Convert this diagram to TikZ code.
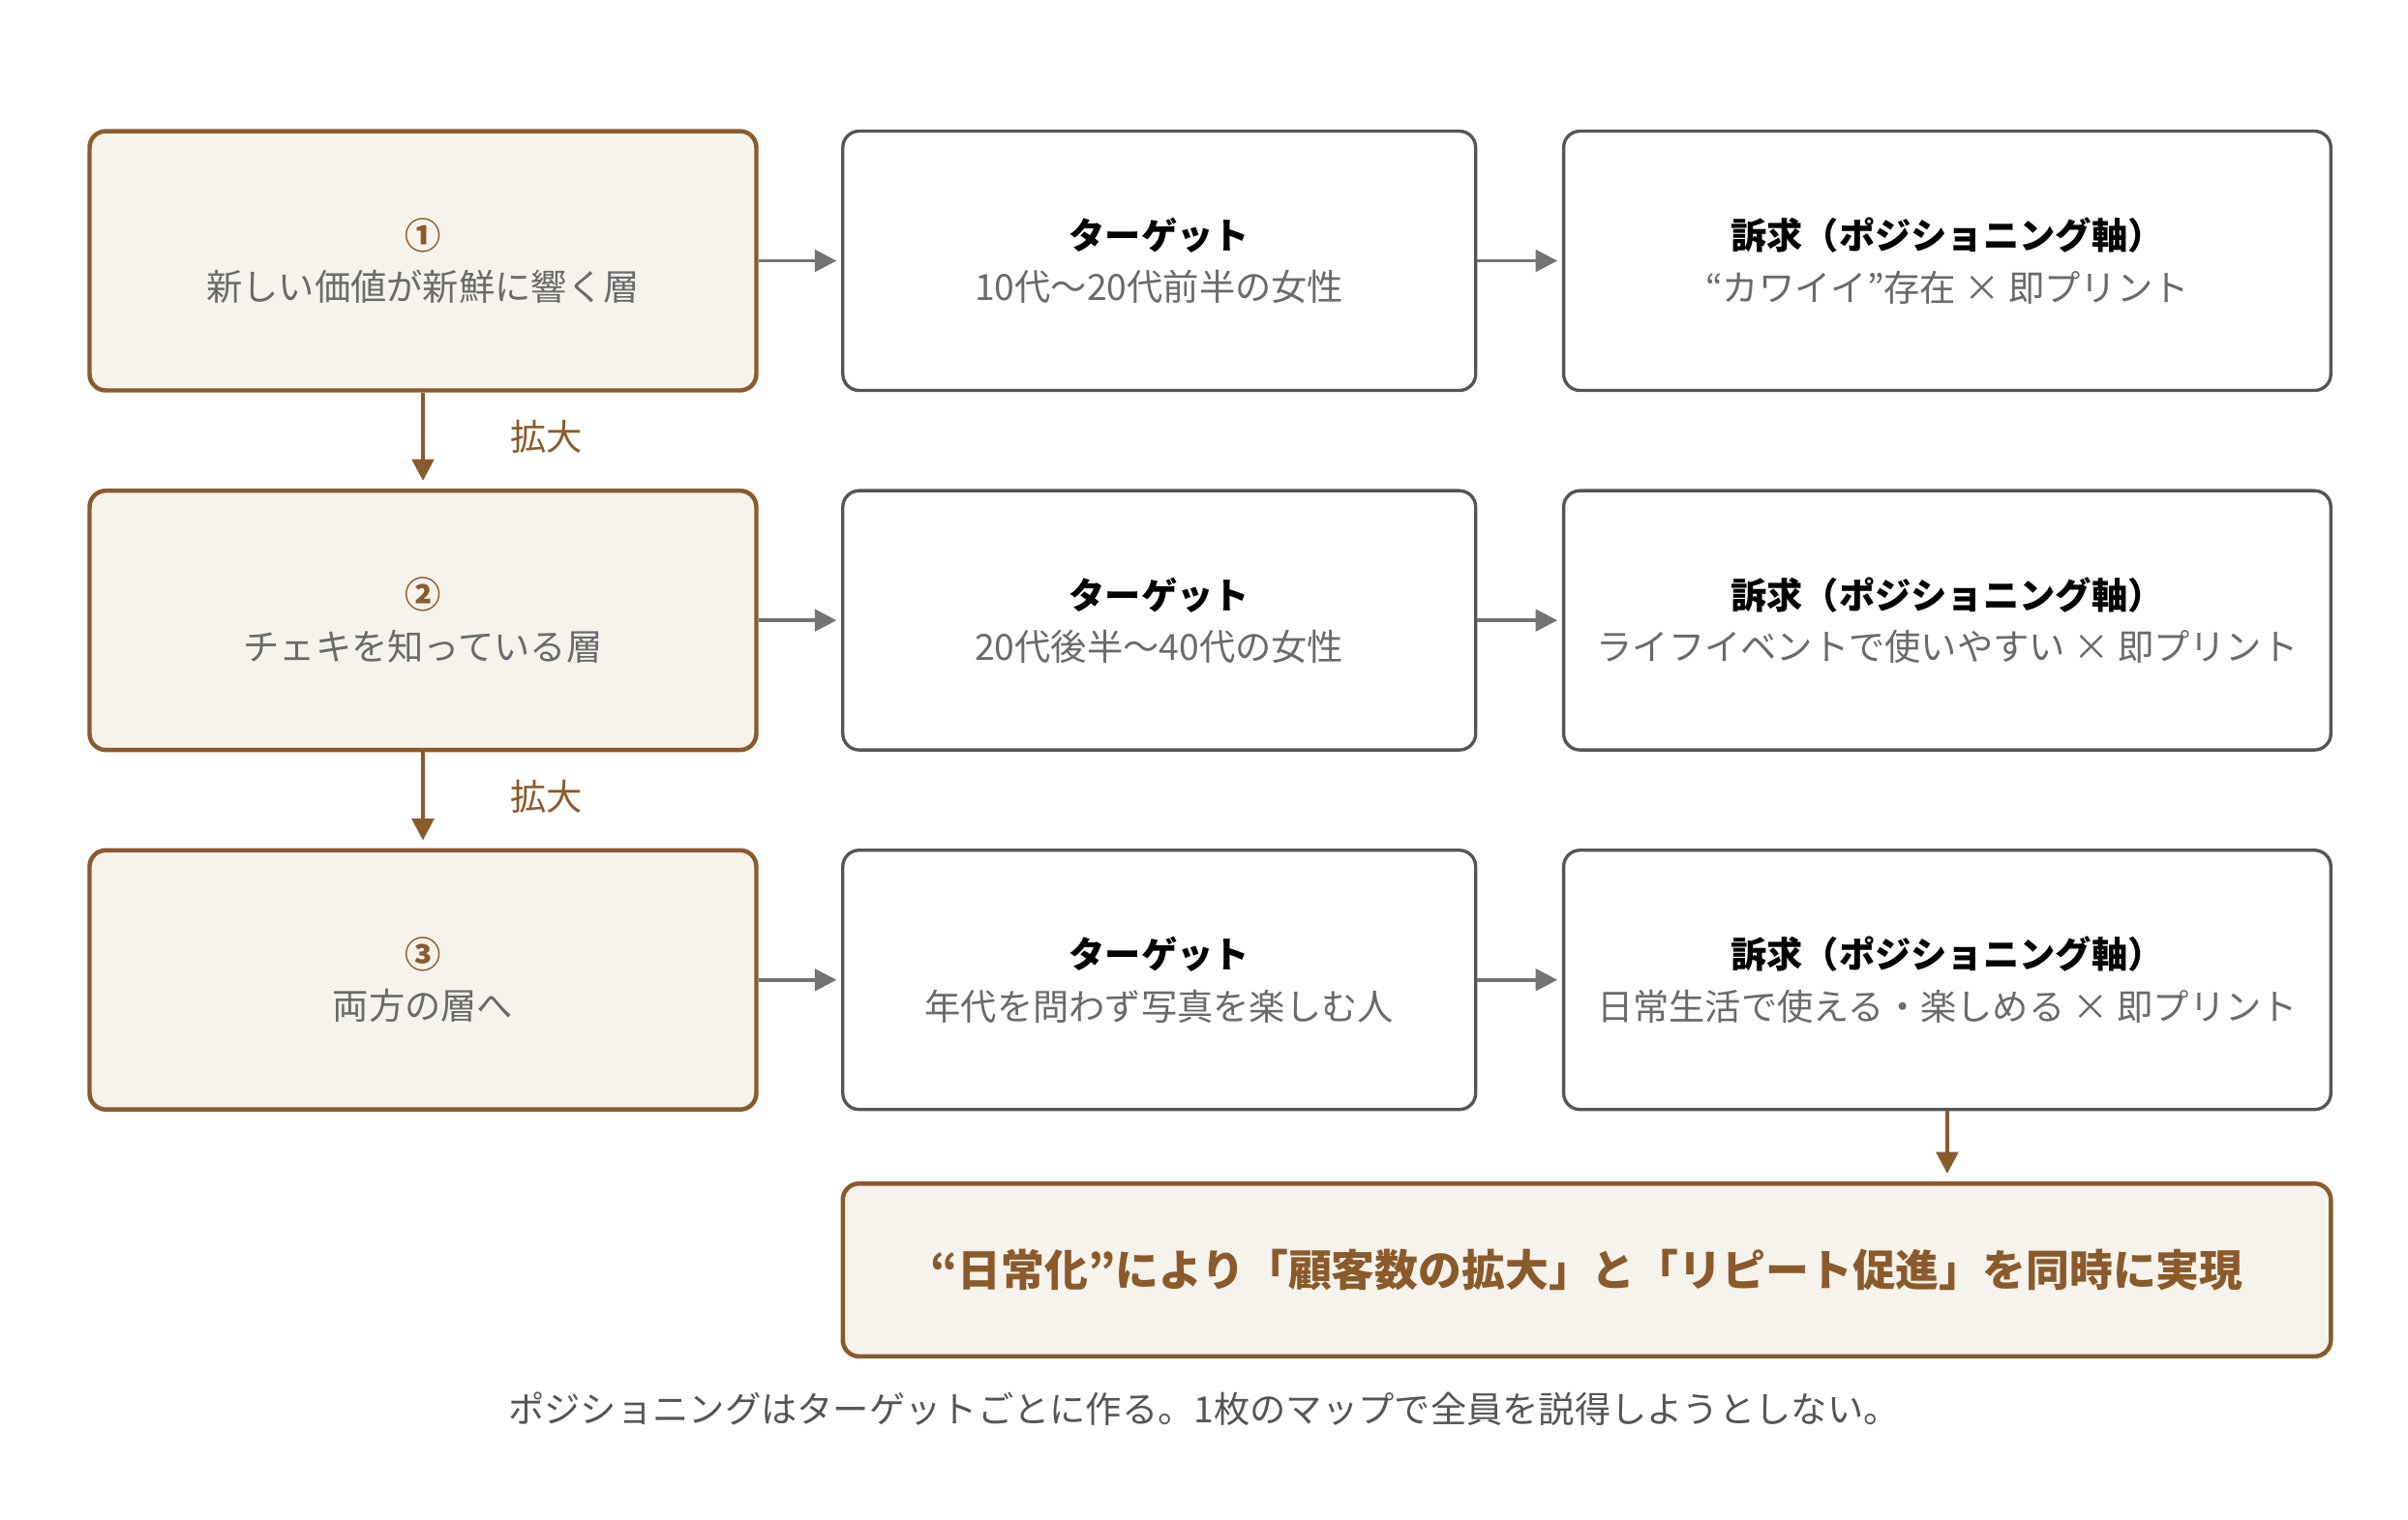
\documentclass[tikz,border=0pt]{standalone}
\usepackage{fontspec}
\setmainfont{Noto Sans CJK JP}
\newfontfamily\jpb{Noto Sans CJK JP}[BoldFont={Noto Sans CJK JP Bold}]
\usetikzlibrary{arrows.meta}
\definecolor{brn}{HTML}{8B5A2B}
\definecolor{cream}{HTML}{F6F2EC}
\definecolor{bd}{HTML}{555555}
\definecolor{tx}{HTML}{6A6A6A}
\begin{document}
\begin{tikzpicture}[
  every node/.style={inner sep=0pt},
  lay/.style={draw=brn, line width=1.6pt, fill=cream, rounded corners=6pt, minimum width=8.64cm, minimum height=3.36cm, align=center, text=tx, font=\fontsize{13.3pt}{19pt}\selectfont},
  tgt/.style={draw=bd, line width=1.2pt, fill=white, rounded corners=6pt, minimum width=8.2cm, minimum height=3.36cm, align=center, text=tx, font=\fontsize{13.3pt}{19pt}\selectfont},
  app/.style={tgt, minimum width=9.94cm},
  harr/.style={draw=gray!90!black, line width=1.3pt, -{Triangle[length=8pt,width=8pt]}, shorten >=0.06cm},
  varr/.style={draw=brn, line width=1.6pt, -{Triangle[length=8pt,width=8pt]}, shorten >=0.1cm},
  lbl/.style={text=brn, font=\fontsize{13.3pt}{16pt}\selectfont}
]
\useasboundingbox (0,0) rectangle (31.2,-19.69);
\newcommand{\ttl}[1]{{\bfseries\color{black}#1}}
\newcommand{\num}[1]{{\bfseries\color{brn}#1}}
\node[lay] (l1) at (5.48,-3.38) {\num{①}\\新しい価値が新鮮に響く層};
\node[lay] (l2) at (5.48,-8.04) {\num{②}\\チェキを知っている層};
\node[lay] (l3) at (5.48,-12.70) {\num{③}\\両方の層へ};
\node[tgt] (t1) at (15.02,-3.38) {\ttl{ターゲット}\\10代〜20代前半の女性};
\node[tgt] (t2) at (15.02,-8.04) {\ttl{ターゲット}\\20代後半〜40代の女性};
\node[tgt] (t3) at (15.02,-12.70) {\ttl{ターゲット}\\年代を問わず写真を楽しむ人};
\node[app] (a1) at (25.23,-3.38) {\ttl{訴求（ポジショニング軸）}\\“カワイイ”存在 × 即プリント};
\node[app] (a2) at (25.23,-8.04) {\ttl{訴求（ポジショニング軸）}\\ライフイベントで使いやすい × 即プリント};
\node[app] (a3) at (25.23,-12.70) {\ttl{訴求（ポジショニング軸）}\\日常生活で使える・楽しめる × 即プリント};
\node[lay, minimum width=19.28cm, minimum height=2.24cm, text=brn, font=\fontsize{16pt}{19pt}\selectfont\bfseries] (res) at (20.56,-16.46) {“日常化”により「顧客数の拡大」と「リピート促進」を同時に実現};
\node[text=bd, font=\fontsize{13.3pt}{16pt}\selectfont] (foot) at (15.6,-18.26) {ポジショニングはターゲットごとに作る。1枚のマップで全員を説得しようとしない。};
\foreach \i in {1,2,3} {
  \draw[harr] (l\i.east) -- (t\i.west);
  \draw[harr] (t\i.east) -- (a\i.west);
}
\draw[varr] (l1.south) -- (l2.north);
\draw[varr] (l2.south) -- (l3.north);
\node[lbl] (e1) at (7.08,-5.66) {拡大};
\node[lbl] (e2) at (7.08,-10.32) {拡大};
\draw[varr] (a3.south) -- (a3.south |- res.north);
\end{tikzpicture}
\end{document}
